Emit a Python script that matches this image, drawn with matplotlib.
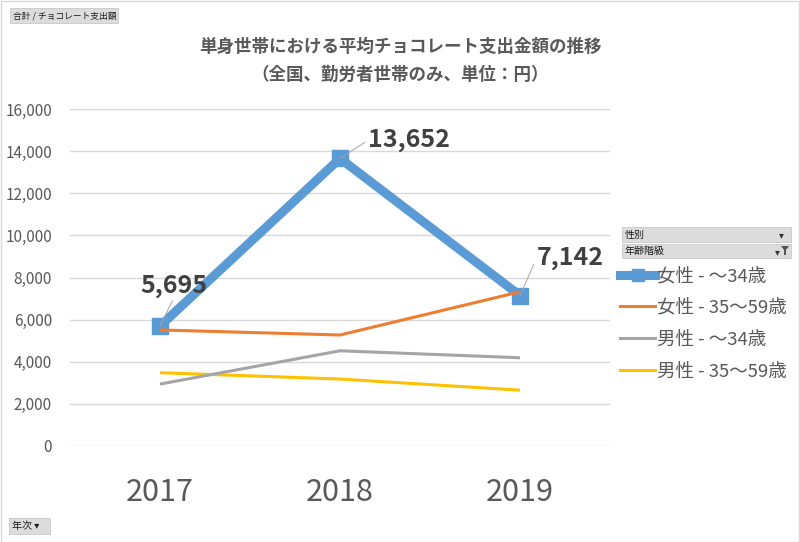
import matplotlib
matplotlib.use("Agg")
import matplotlib.pyplot as plt
from matplotlib.patches import Rectangle, Polygon
from matplotlib.lines import Line2D

plt.rcParams['font.family'] = ['Noto Sans CJK JP', 'DejaVu Sans']

years = ["2017", "2018", "2019"]
series_names = ["女性 - ～34歳", "女性 - 35～59歳", "男性 - ～34歳", "男性 - 35～59歳"]
f_young = [5695, 13652, 7142]
f_mid = [5510, 5270, 7320]
m_young = [2940, 4520, 4190]
m_mid = [3480, 3180, 2650]
y_ticks = [0, 2000, 4000, 6000, 8000, 10000, 12000, 14000, 16000]

W, H = 800, 542
fig = plt.figure(figsize=(W / 100, H / 100), dpi=100)
ax = fig.add_axes([70 / W, (H - 446) / H, 540 / W, (446 - 109) / H])

x = list(range(len(years)))
ax.plot(x, m_mid, color="#FFC000", lw=2.2, solid_capstyle="butt", zorder=3)
ax.plot(x, m_young, color="#A5A5A5", lw=2.2, solid_capstyle="butt", zorder=3)
ax.plot(x, f_young, color="#5B9BD5", lw=6.5, marker="s", markersize=12,
        solid_joinstyle="miter", zorder=4)
ax.plot(x, f_mid, color="#ED7D31", lw=2.2, solid_capstyle="butt", zorder=5)

ax.set_xlim(-0.5, 2.5)
ax.set_ylim(0, 16000)
ax.set_yticks(y_ticks)
ax.set_yticklabels([f"{v:,}" for v in y_ticks])
ax.set_xticks(x)
ax.set_xticklabels(years)
ax.tick_params(axis="y", length=0, pad=13, labelsize=11, labelcolor="#595959")
ax.tick_params(axis="x", length=0, pad=22, labelsize=22, labelcolor="#595959")
ax.grid(axis="y", color="#D9D9D9", lw=1)
ax.set_axisbelow(True)
for s in ax.spines.values():
    s.set_visible(False)

# data labels with leader lines
lbl_kw = dict(fontsize=18, fontweight="bold", color="#404040", textcoords="offset points", zorder=6)
ln = dict(arrowstyle="-", color="#A6A6A6", lw=0.7, shrinkA=0, shrinkB=0)
ax.annotate(f"{f_young[0]:,}", xy=(0, f_young[0]), xytext=(10, 29), ha="center", va="center",
            arrowprops=dict(relpos=(0.5, 0), **ln), **lbl_kw)
ax.annotate(f"{f_young[1]:,}", xy=(1, f_young[1]), xytext=(20, 13), ha="left", va="center",
            arrowprops=dict(relpos=(0, 0.5), **ln), **lbl_kw)
ax.annotate(f"{f_young[2]:,}", xy=(2, f_young[2]), xytext=(12, 27), ha="left", va="center",
            arrowprops=dict(relpos=(0, 0.5), **ln), **lbl_kw)

# title
fig.text(400 / W, 1 - 47 / H, "単身世帯における平均チョコレート支出金額の推移", ha="center", va="center",
         fontsize=12.6, fontweight="bold", color="#595959")
fig.text(400 / W, 1 - 75 / H, "（全国、勤労者世帯のみ、単位：円）", ha="center", va="center",
         fontsize=12.6, fontweight="bold", color="#595959")

# legend
handles = [
    Line2D([], [], color="#5B9BD5", lw=6.5, marker="s", markersize=9),
    Line2D([], [], color="#ED7D31", lw=2.2),
    Line2D([], [], color="#A5A5A5", lw=2.2),
    Line2D([], [], color="#FFC000", lw=2.2),
]
leg = fig.legend(handles, series_names, loc="upper left", bbox_to_anchor=(620 / W, 1 - 267 / H),
                 frameon=False, fontsize=13.3, handlelength=1.9, handletextpad=0.1,
                 labelspacing=0.75, borderaxespad=0, borderpad=0)
for t in leg.get_texts():
    t.set_color("#595959")

# pivot buttons
def button(x0, y0, x1, y1, text, fs=7.2):
    fig.patches.append(Rectangle((x0 / W, 1 - y1 / H), (x1 - x0) / W, (y1 - y0) / H,
                                 transform=fig.transFigure, facecolor="#DCDCDC",
                                 edgecolor="#C8C8C8", lw=0.6))
    fig.text((x0 + 3) / W, 1 - (y0 + y1) / 2 / H, text, ha="left", va="center",
             fontsize=fs, color="#1A1A1A")

button(10, 8, 118, 23, "合計 / チョコレート支出額", fs=6.3)
button(9, 518, 50, 534, "年次 ▾")
button(622, 227, 791, 242, "性別")
button(622, 244, 791, 258, "年齢階級")
fig.text(781 / W, 1 - 235 / H, "▾", ha="center", va="center", fontsize=7, color="#333333",
         family=["DejaVu Sans"])
fig.text(777 / W, 1 - 252 / H, "▾", ha="center", va="center", fontsize=7, color="#333333",
         family=["DejaVu Sans"])
fig.patches.append(Polygon([(781 / W, 1 - 246 / H), (789 / W, 1 - 246 / H), (786 / W, 1 - 250 / H),
                            (786 / W, 1 - 255 / H), (784 / W, 1 - 255 / H), (784 / W, 1 - 250 / H)],
                           closed=True, transform=fig.transFigure, facecolor="#555555", edgecolor="none"))

# outer border
fig.patches.append(Rectangle((0.5 / W, 0.5 / H), (W - 1.5) / W, (H - 1.5) / H, transform=fig.transFigure,
                             facecolor="none", edgecolor="#D9D9D9", lw=1))

fig.savefig("out.png", dpi=100)
